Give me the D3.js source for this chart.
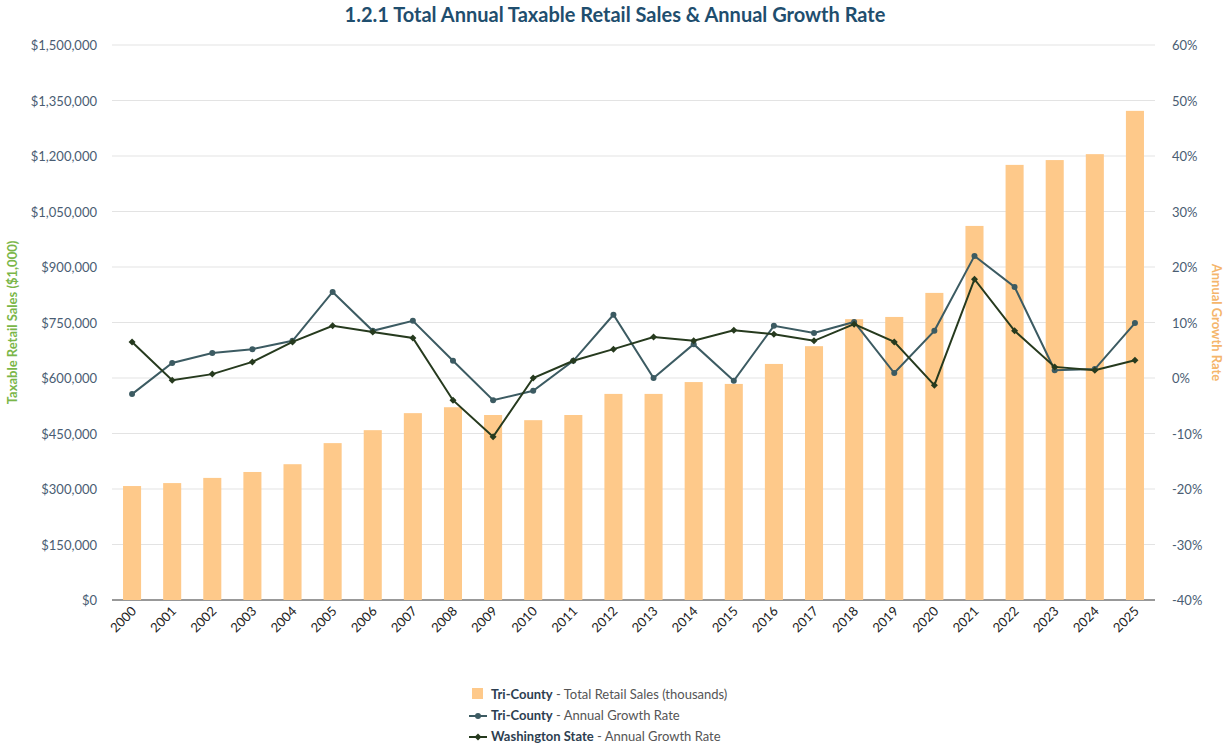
<!DOCTYPE html>
<html><head><meta charset="utf-8">
<script src="https://cdn.jsdelivr.net/npm/d3@7"></script>
<style>
body{margin:0;background:#fff;font-family:Lato,"Open Sans",sans-serif;}
text{font-family:Lato,"Open Sans",sans-serif;}
</style></head><body>
<svg id="chart" width="1227" height="754"></svg>
<script>
'use strict';

var years = d3.range(2000, 2026).map(String);
var sales = [308000, 316000, 330000, 346000, 367000, 424000, 459000, 505000, 521000, 500000,
	486000, 500000, 557000, 557000, 589000, 584000, 638000, 686000, 759000, 765000,
	830000, 1011000, 1176000, 1189000, 1205000, 1322000];
var triGrowth = [-2.9, 2.7, 4.5, 5.2, 6.7, 15.5, 8.5, 10.3, 3.1, -4.0, -2.3, 3.1, 11.4, 0.0,
	6.1, -0.5, 9.4, 8.1, 10.1, 0.9, 8.5, 22.0, 16.4, 1.4, 1.6, 9.9];
var waGrowth = [6.5, -0.4, 0.7, 2.9, 6.5, 9.4, 8.3, 7.2, -4.0, -10.6, 0.0, 3.1, 5.2, 7.4,
	6.7, 8.6, 7.9, 6.7, 9.7, 6.5, -1.3, 17.8, 8.5, 2.0, 1.4, 3.2];
var leftTicks = d3.range(0, 1500001, 150000);
var rightTicks = d3.range(-40, 61, 10);

(function() {
var pLeft = 112, pRight = 1155, pTop = 45, pBottom = 600;
var svg = d3.select('#chart');

var x = d3.scaleBand().domain(years).range([pLeft, pRight]).paddingInner(0.55).paddingOuter(0.275);
var y = d3.scaleLinear().domain([0, 1500000]).range([pBottom, pTop]);
var y2 = d3.scaleLinear().domain([-40, 60]).range([pBottom, pTop]);

svg.append('text').attr('x', 615).attr('y', 22).attr('text-anchor', 'middle')
	.attr('font-size', 20).attr('font-weight', 'bold').attr('fill', '#1f4e6e')
	.text('1.2.1 Total Annual Taxable Retail Sales & Annual Growth Rate');

// grid
svg.append('g').selectAll('line').data(leftTicks).enter().append('line')
	.attr('x1', pLeft).attr('x2', pRight)
	.attr('y1', function(d) { return y(d); }).attr('y2', function(d) { return y(d); })
	.attr('stroke', function(d) { return d === 0 ? '#333' : '#e3e3e3'; });

var fmt = d3.format(',');
svg.append('g').selectAll('text').data(leftTicks).enter().append('text')
	.attr('x', 97).attr('y', function(d) { return y(d) + 5; }).attr('text-anchor', 'end')
	.attr('font-size', 13).attr('fill', '#4a5d73').text(function(d) { return '$' + fmt(d); });
svg.append('g').selectAll('text').data(rightTicks).enter().append('text')
	.attr('x', 1172).attr('y', function(d) { return y2(d) + 5; })
	.attr('font-size', 13).attr('fill', '#4a5d73').text(function(d) { return d + '%'; });

svg.append('text').attr('transform', 'translate(17,' + (pTop + pBottom) / 2 + ') rotate(-90)')
	.attr('text-anchor', 'middle').attr('font-size', 13).attr('font-weight', 'bold')
	.attr('fill', '#7ab648').text('Taxable Retail Sales ($1,000)');
svg.append('text').attr('transform', 'translate(1212,' + (pTop + pBottom) / 2 + ') rotate(90)')
	.attr('text-anchor', 'middle').attr('font-size', 13).attr('font-weight', 'bold')
	.attr('fill', '#f5b56b').text('Annual Growth Rate');

// bars
svg.append('g').selectAll('rect').data(sales).enter().append('rect')
	.attr('x', function(d, i) { return x(years[i]); }).attr('width', x.bandwidth())
	.attr('y', function(d) { return y(d); }).attr('height', function(d) { return pBottom - y(d); })
	.attr('fill', '#fec98a');

// x labels
svg.append('g').selectAll('text').data(years).enter().append('text')
	.attr('transform', function(d) { return 'translate(' + (x(d) + x.bandwidth() / 2 + 5) + ',612) rotate(-45)'; })
	.attr('text-anchor', 'end').attr('font-size', 13).attr('fill', '#222').text(function(d) { return d; });

function cx(i) { return x(years[i]) + x.bandwidth() / 2; }
var line = d3.line().x(function(d, i) { return cx(i); }).y(function(d) { return y2(d); });

function series(data, color, marker) {
	svg.append('path').datum(data).attr('d', line).attr('fill', 'none')
		.attr('stroke', color).attr('stroke-width', 2);
	var g = svg.append('g');
	data.forEach(function(d, i) {
		if (marker === 'circle') {
			g.append('circle').attr('cx', cx(i)).attr('cy', y2(d)).attr('r', 3).attr('fill', color);
		} else {
			g.append('path').attr('transform', 'translate(' + cx(i) + ',' + y2(d) + ')')
				.attr('d', 'M0,-3.5L3.5,0L0,3.5L-3.5,0Z').attr('fill', color);
		}
	});
}
series(triGrowth, '#3c5b62', 'circle');
series(waGrowth, '#263a1e', 'diamond');

// legend
var lg = svg.append('g').attr('font-size', 13);
lg.append('rect').attr('x', 472).attr('y', 688).attr('width', 11).attr('height', 11).attr('fill', '#fec98a');
var items = [
	['Tri-County', ' - Total Retail Sales (thousands)', 699],
	['Tri-County', ' - Annual Growth Rate', 720],
	['Washington State', ' - Annual Growth Rate', 741]
];
[['#3c5b62', 'circle', 716], ['#263a1e', 'diamond', 737]].forEach(function(s) {
	lg.append('line').attr('x1', 469).attr('x2', 487).attr('y1', s[2]).attr('y2', s[2])
		.attr('stroke', s[0]).attr('stroke-width', 2);
	if (s[1] === 'circle') lg.append('circle').attr('cx', 478).attr('cy', s[2]).attr('r', 3).attr('fill', s[0]);
	else lg.append('path').attr('transform', 'translate(478,' + s[2] + ')').attr('d', 'M0,-3.5L3.5,0L0,3.5L-3.5,0Z').attr('fill', s[0]);
});
items.forEach(function(it) {
	var t = lg.append('text').attr('x', 491).attr('y', it[2]).attr('fill', '#333');
	t.append('tspan').attr('font-weight', 'bold').attr('fill', '#2d3e50').text(it[0]);
	t.append('tspan').attr('fill', '#555').text(it[1]);
});
})();
</script>
</body></html>
